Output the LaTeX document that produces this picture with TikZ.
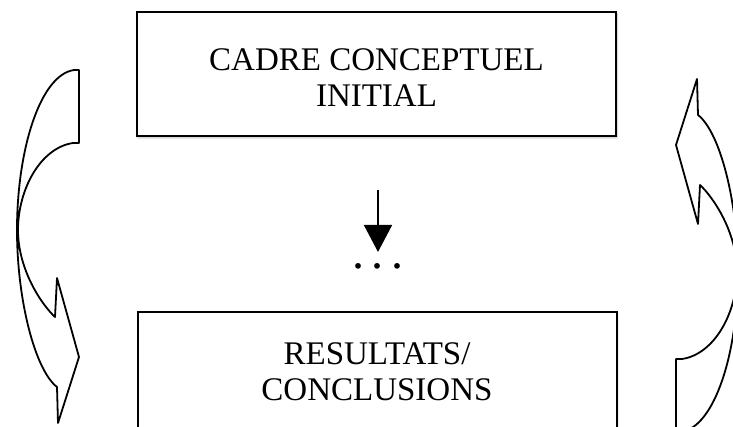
\documentclass[tikz,border=0pt]{standalone}
\usepackage{fontspec}
\setmainfont{Liberation Serif}
\usetikzlibrary{arrows.meta,shadows.blur}

\tikzset{
  stage/.style={draw=black, line width=2pt, fill=white, minimum width=479pt,
    align=center, inner sep=0pt, font=\fontsize{33}{36}\selectfont,
    blur shadow={shadow xshift=1pt, shadow yshift=-2pt, shadow opacity=25, shadow blur steps=6}},
  loopline/.style={draw=black, line width=1.8pt, fill=white, line join=round},
  flowarrow/.style={line width=1.8pt, -{Triangle[width=28pt,length=27pt]}, shorten >=11pt},
  % curved arrow, tail on top and head at the bottom
  bendarrow/.pic={
    \path[loopline] (79,70) -- (74,70)
      .. controls (40,75) and (17,150) .. (17,230)
      .. controls (17,300) and (35,370) .. (57,387)
      -- (58,423) -- (79,357) -- (57,278) -- (55,317)
      .. controls (42,305) and (18,270) .. (18,230)
      .. controls (18,190) and (40,148) .. (73,143)
      -- (79,143) -- cycle;
  }
}

\begin{document}
\begin{tikzpicture}[x=1pt, y=-1pt]
    \useasboundingbox (0,0) rectangle (733,427);
    \clip (0,0) rectangle (733,427);

    % Side loops
    \pic at (0,0) {bendarrow};
    \pic[rotate=180] at (755,502) {bendarrow};

    % The two stages
    \node[stage, minimum height=124pt] (cadre) at (376.5,74) {\rule{0pt}{29pt}CADRE CONCEPTUEL\\INITIAL};
    \node[stage, minimum height=120pt] (resultats) at (377,372) {RESULTATS/\\CONCLUSIONS};

    % Arrow down to the dots
    \coordinate (depart) at (378,190);
    \node[inner sep=0pt, font=\fontsize{48}{48}\selectfont] (suite) at (378,266) {.\hspace{8pt}.\hspace{8pt}.};
    \draw[flowarrow] (depart) -- (suite.north);
\end{tikzpicture}
\end{document}
